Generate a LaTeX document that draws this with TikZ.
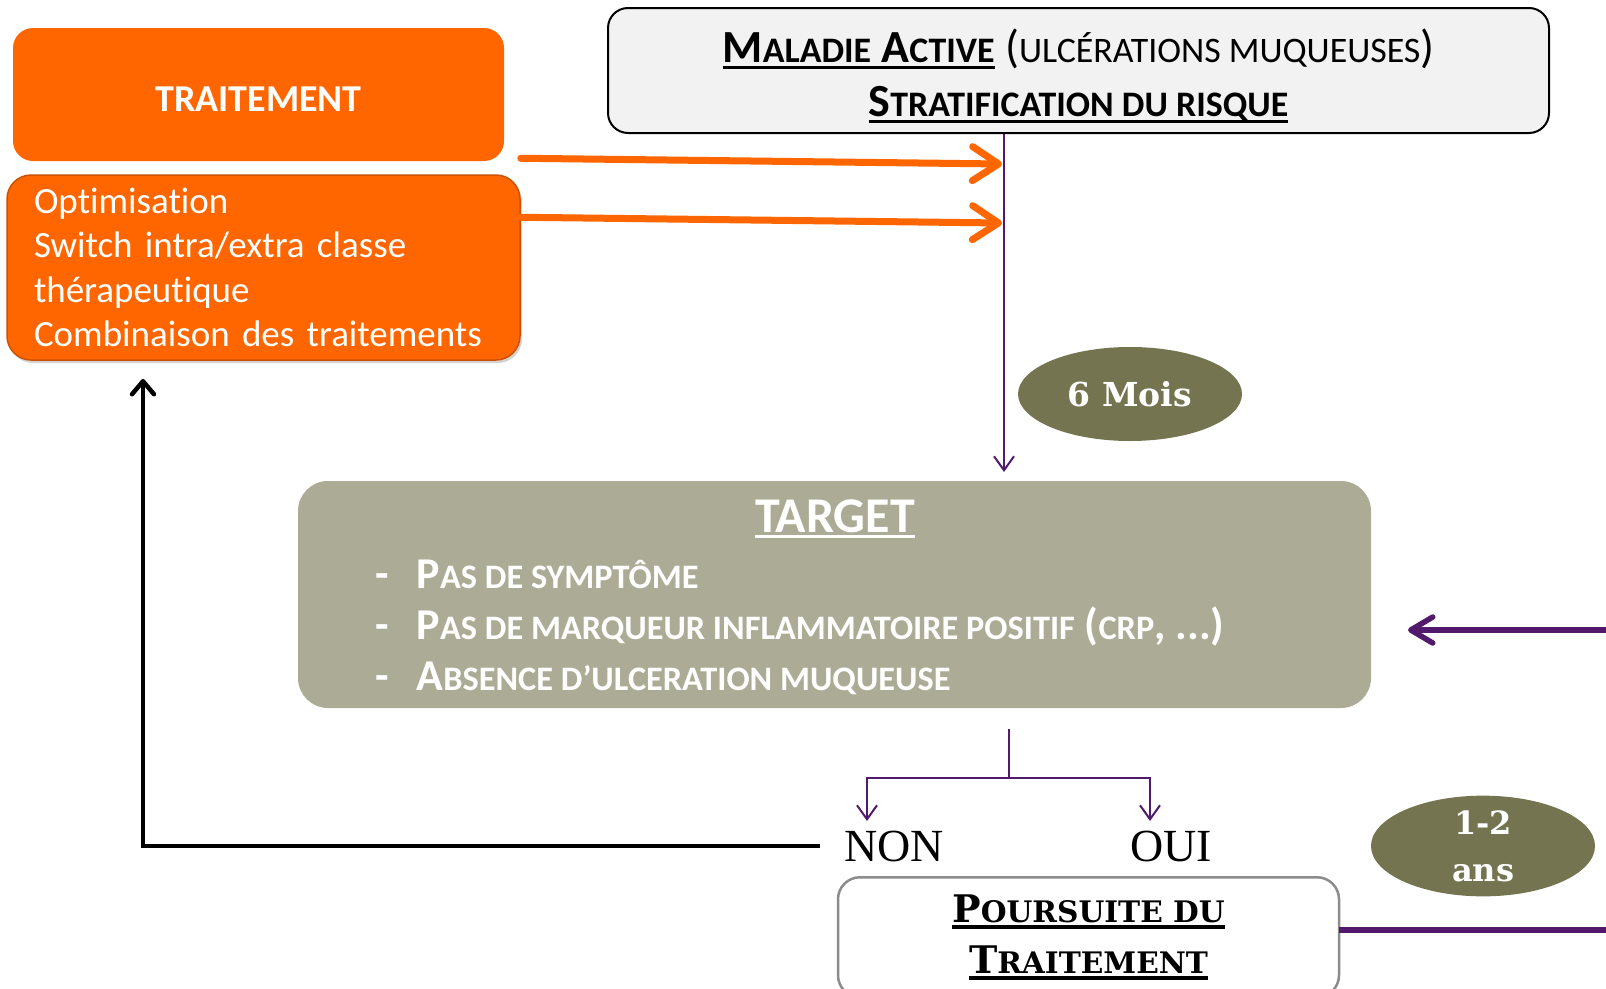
\documentclass[tikz,border=0pt]{standalone}
\usepackage{fontspec}
\setmainfont[Ligatures=NoCommon]{Carlito}
\newfontfamily\slabfont{DejaVu Serif}
\newfontfamily\plainserif{Liberation Serif}
\usepackage{xcolor}
\definecolor{traitorange}{RGB}{255,102,0}
\definecolor{darkorange}{RGB}{205,82,0}
\definecolor{olivegreen}{RGB}{116,117,80}
\definecolor{targetgrey}{RGB}{172,172,150}
\definecolor{flowpurple}{RGB}{82,26,108}
\definecolor{panelgrey}{RGB}{242,242,242}
\usetikzlibrary{shapes.geometric,arrows.meta,positioning,shadows,calc}
\makeatletter
\newcommand{\lsc}[1]{{\fontsize{\fpeval{0.78*\f@size}}{\f@baselineskip}\selectfont #1}}
\makeatother
\newcommand{\thickul}[2][3pt]{\setbox0\hbox{#2}\leavevmode\rlap{\rule[-6pt]{\wd0}{#1}}\box0}

\begin{document}
\begin{tikzpicture}[x=1pt, y=-1pt,
    orangebox/.style={rectangle, fill=traitorange, rounded corners=20pt,
                 text=white, font=\bfseries\fontsize{38}{38}\selectfont},
    optbox/.style={rectangle, fill=traitorange, draw=darkorange, line width=1.5pt,
                 rounded corners=24pt, text=white, align=left,
                 drop shadow={opacity=0.35, shadow xshift=2pt, shadow yshift=-3pt},
                 font=\fontsize{37}{44.5}\selectfont},
    greypanel/.style={rectangle, fill=panelgrey, draw=black, line width=2pt,
                 rounded corners=20pt, align=center},
    whitepanel/.style={rectangle, fill=white, draw=black!45, line width=2.5pt,
                 rounded corners=22pt, align=center},
    targetbox/.style={rectangle, fill=targetgrey, rounded corners=30pt},
    delay/.style={ellipse, fill=olivegreen, text=white, align=center, inner sep=0pt},
    answer/.style={inner sep=0pt, font=\plainserif\fontsize{46}{46}\selectfont},
    orangearr/.style={-{Straight Barb[length=26pt, width=34pt, round]},
                 traitorange, line width=7pt, line cap=round},
    thinarr/.style={-{Straight Barb[length=14pt, width=20pt]}, flowpurple, line width=2pt},
    backarr/.style={-{Straight Barb[length=13pt, width=22pt, round]}, black, line width=4.5pt},
    looparr/.style={-{Straight Barb[length=22pt, width=26pt, round]}, flowpurple, line width=5.5pt},
  ]
    \useasboundingbox (0,0) rectangle (1606,988);
    \clip (0,0) rectangle (1606,988);

    % left: treatment boxes
    \node[orangebox, minimum width=491pt, minimum height=133pt, text height=33pt, text depth=0pt]
        (traitement) at (258.5,94.5) {TRAITEMENT};
    \node[optbox, minimum width=513pt, minimum height=185pt, text width=459pt, inner xsep=27pt]
        (optim) at (263.5,267.5)
        {Optimisation\\Switch intra/extra classe\\thérapeutique\\Combinaison des traitements};

    % top: active disease
    \node[greypanel, minimum width=941pt, minimum height=125pt, font=\fontsize{46}{54}\selectfont]
        (maladie) at (1078.5,70.5)
        {\rule{0pt}{44pt}{\bfseries\thickul{M\lsc{ALADIE} A\lsc{CTIVE}}} (\lsc{ULCÉRATIONS MUQUEUSES})\\
         \textbf{\thickul{S\lsc{TRATIFICATION DU RISQUE}}}};

    % target
    \node[targetbox, minimum width=1073pt, minimum height=227pt] (target) at (834.5,594.5) {};
    \node[text=white, font=\bfseries\fontsize{50}{50}\selectfont, inner sep=0pt]
        (targettitle) at (835,519) {\thickul{TARGET}};
    \node[anchor=west, text=white, inner sep=0pt, font=\bfseries\fontsize{44}{51}\selectfont]
        (crit) at (375,629)
        {\begin{tabular}{@{}l@{\hspace{28pt}}l@{}}
          - & P\lsc{AS DE SYMPTÔME}\\
          - & P\lsc{AS DE MARQUEUR INFLAMMATOIRE POSITIF} (\lsc{CRP}, ...)\\
          - & A\lsc{BSENCE D’ULCERATION MUQUEUSE}
         \end{tabular}};

    % delays
    \node[delay, minimum width=224pt, minimum height=94pt,
          font=\slabfont\bfseries\fontsize{33}{33}\selectfont] (sixmois) at (1130,394) {6 Mois};
    \node[delay, minimum width=224pt, minimum height=94pt,
          font=\slabfont\bfseries\fontsize{32}{47}\selectfont] (ans) at (1483,846) {1-2\\ans};

    % answers and follow-up
    \node[answer] (non) at (894,846) {NON};
    \node[answer] (oui) at (1171,846) {OUI};
    \node[whitepanel, minimum width=501pt, minimum height=120pt, anchor=north,
          font=\slabfont\bfseries\fontsize{38}{51}\selectfont] (poursuite) at (1088.5,876)
        {\thickul[4pt]{P\lsc{OURSUITE DU}}\\\thickul[4pt]{T\lsc{RAITEMENT}}};

    % connector ends
    \coordinate (axistip) at (1004,472);
    \coordinate (axis1) at (1002,164);
    \coordinate (axis2) at (1002,223);
    \coordinate (fork) at (1009,778);
    \coordinate (noarr) at (867,821);
    \coordinate (yesarr) at (1150,821);
    \coordinate (backtip) at (143,379);
    \coordinate (loopin) at (1408,630);
    \coordinate (loopout) at (1339,930);

    \draw[orangearr] ([yshift=16pt]optim.north east) -- (axis1);
    \draw[orangearr] ([yshift=-43pt]optim.north east) -- (axis2);
    \draw[thinarr] (maladie.south -| axistip) -- (axistip);
    \draw[flowpurple, line width=2pt, shorten <=21pt] (target.south -| fork) -- (fork);
    \draw[thinarr] (fork) -| (noarr);
    \draw[thinarr] (fork) -| (yesarr);
    \draw[backarr, shorten <=24pt] (non.west) -| (backtip);
    \draw[looparr] (loopout) -- ++(330,0) |- (loopin);
  \end{tikzpicture}
\end{document}
